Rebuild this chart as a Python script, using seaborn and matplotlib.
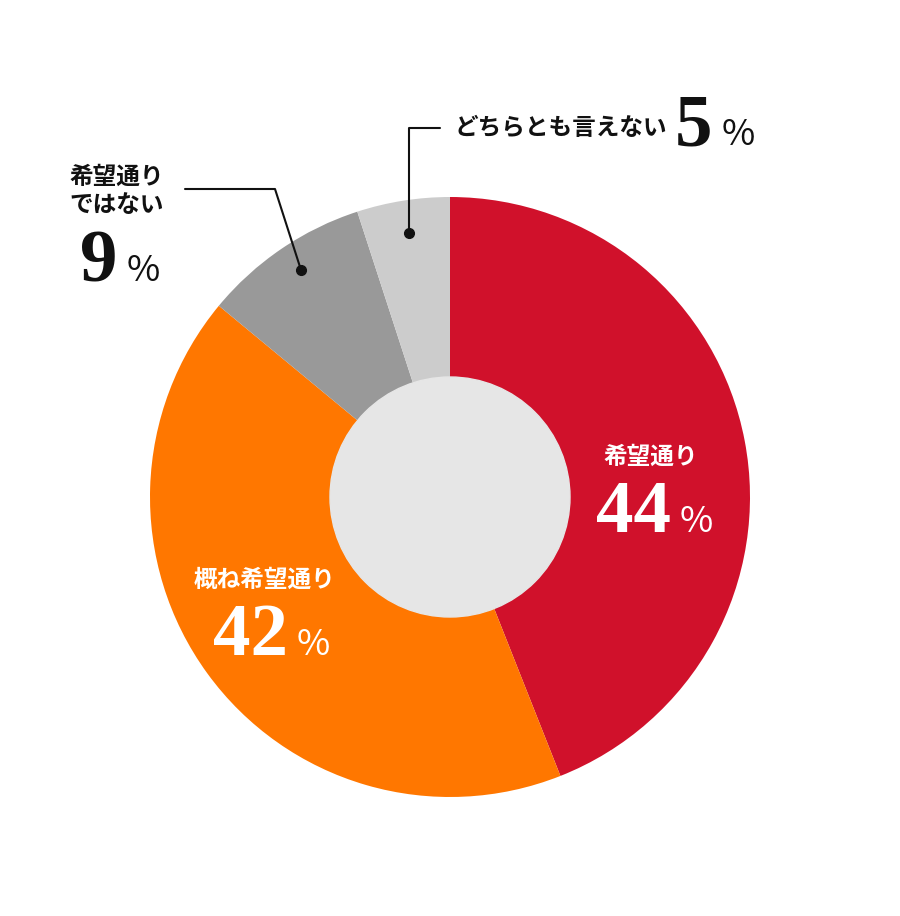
import matplotlib
matplotlib.use("Agg")
import matplotlib.pyplot as plt
import seaborn as sns

# data
categories = ["希望通り", "概ね希望通り", "希望通り\nではない", "どちらとも言えない"]
shares = [44, 42, 9, 5]
colors = ["#d0112b", "#ff7700", "#999999", "#cccccc"]

sns.set_theme(style="white")
plt.rcParams['font.family'] = ['Noto Sans CJK JP', 'DejaVu Sans']

W, H = 900, 916
fig = plt.figure(figsize=(W / 100, H / 100), dpi=100)
ax = fig.add_axes([0, 0, 1, 1])

cx, cy = 450, H - 497
ax.pie(shares, colors=colors, startangle=90, counterclock=False,
       center=(cx, cy), radius=300, frame=True,
       wedgeprops=dict(linewidth=0))
ax.add_patch(plt.Circle((cx, cy), 120, color="#e6e6e6", zorder=3))
ax.set_xlim(0, W)
ax.set_ylim(0, H)
ax.set_aspect("equal")
ax.axis("off")

num_font = dict(family="Liberation Serif", weight="bold", size=54)
lab_font = dict(family=["Noto Sans CJK JP", "DejaVu Sans"], weight="bold", size=17)
pct_font = dict(family=["Noto Sans CJK JP", "DejaVu Sans"], weight="normal", size=26)


def y(p):
    return H - p


def value_label(x0, ybase, val, color, gap=9):
    t = ax.text(x0, y(ybase), str(val), color=color, ha="left", va="baseline", **num_font)
    fig.canvas.draw()
    bb = t.get_window_extent()
    ax.text(bb.x1 + gap, y(ybase), "%", color=color, ha="left", va="baseline", **pct_font)


# 希望通り 44%
ax.text(651, y(457), categories[0], color="white", ha="center", va="center", **lab_font)
value_label(596, 532, shares[0], "white")

# 概ね希望通り 42%
ax.text(265, y(580), categories[1], color="white", ha="center", va="center", **lab_font)
value_label(213, 655, shares[1], "white")

# 希望通りではない 9%
ax.text(69, y(191), categories[2], color="#111111", ha="left", va="center",
        linespacing=1.2, **lab_font)
value_label(80, 281, shares[2], "#111111")
ax.plot([185, 275, 301], [y(189), y(189), y(270)], color="#111111", lw=1.5)
ax.plot([301], [y(270)], "o", color="#111111", ms=7)

# どちらとも言えない 5%
ax.text(454, y(128), categories[3], color="#111111", ha="left", va="center", **lab_font)
value_label(675, 145, shares[3], "#111111")
ax.plot([440, 409, 409], [y(128), y(128), y(233)], color="#111111", lw=1.5)
ax.plot([409], [y(233)], "o", color="#111111", ms=7)

fig.savefig("out.png", dpi=100, facecolor="white")
